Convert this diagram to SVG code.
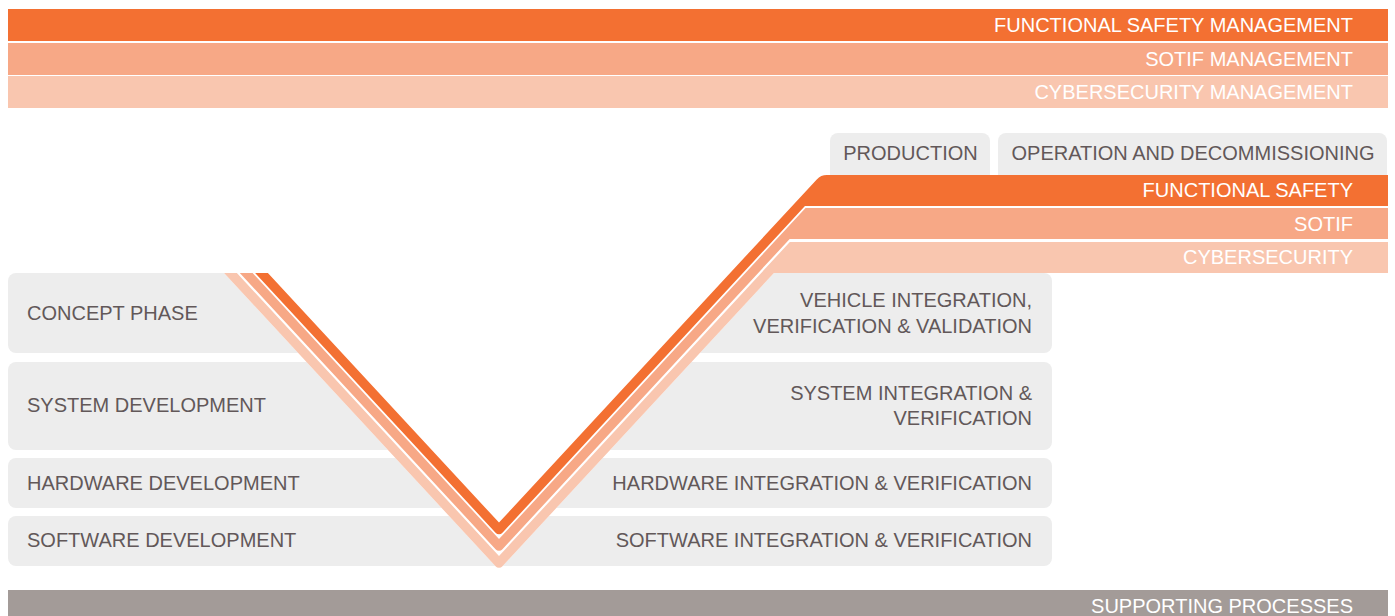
<svg xmlns="http://www.w3.org/2000/svg" width="1395" height="616" viewBox="0 0 1395 616">
<style>
.t{font-family:"Liberation Sans",Arial,sans-serif;font-size:20px}
.w{fill:#ffffff}
.g{fill:#625859}
.end{text-anchor:end}
.mid{text-anchor:middle}
.box{fill:#EDEDED}
.fs{fill:#F37032}
.so{fill:#F7A886}
.cy{fill:#F9C6AF}
</style>
<rect width="1395" height="616" fill="#ffffff"/>

<g id="fs-management">
<rect class="fs" x="8" y="9" width="1380" height="32"/>
<text class="t w end" x="1353" y="32">FUNCTIONAL SAFETY MANAGEMENT</text>
</g>
<g id="sotif-management">
<rect class="so" x="8" y="43" width="1380" height="32"/>
<text class="t w end" x="1353" y="66">SOTIF MANAGEMENT</text>
</g>
<g id="cyber-management">
<rect class="cy" x="8" y="76" width="1380" height="32"/>
<text class="t w end" x="1353" y="99">CYBERSECURITY MANAGEMENT</text>
</g>

<g id="production">
<rect class="box" x="830" y="133" width="160" height="52" rx="8"/>
<text class="t g mid" x="910.5" y="160">PRODUCTION</text>
</g>
<g id="operation">
<rect class="box" x="998" y="133" width="389" height="52" rx="8"/>
<text class="t g mid" x="1193" y="160">OPERATION AND DECOMMISSIONING</text>
</g>

<g id="rows">
<rect class="box" x="8" y="273" width="1044" height="80" rx="8"/>
<rect class="box" x="8" y="362" width="1044" height="88" rx="8"/>
<rect class="box" x="8" y="458" width="1044" height="50" rx="8"/>
<rect class="box" x="8" y="516" width="1044" height="50" rx="8"/>
</g>

<g id="v-hull">
<path fill="#ffffff" d="M224.08 273 L773.92 273 L502.45 566.19 A4.7 4.7 0 0 1 495.55 566.19 Z"/>
</g>

<g id="connectors">
<path id="cybersecurity-v" class="cy" d="M224.08 273 L236.88 273 L499 556.08 L789.82 242 L1388 242 L1388 273 L773.92 273 L502.45 566.19 A4.7 4.7 0 0 1 495.55 566.19 Z"/>
<path id="sotif-v" class="so" d="M239.82 273 L252.62 273 L499 539.08 L805.56 208 L1388 208 L1388 239 L789.66 239 L502.45 549.19 A4.7 4.7 0 0 1 495.55 549.19 Z"/>
<path id="fs-v" class="fs" d="M255.1 273 L267.9 273 L499 522.58 L816.76 179.4 Q820.84 175 826.84 175 L1388 175 L1388 206 L804.94 206 L502.45 532.69 A4.7 4.7 0 0 1 495.55 532.69 Z"/>
</g>

<g id="fs-label"><text class="t w end" x="1353" y="197">FUNCTIONAL SAFETY</text></g>
<g id="sotif-label"><text class="t w end" x="1353" y="231">SOTIF</text></g>
<g id="cyber-label"><text class="t w end" x="1353" y="264">CYBERSECURITY</text></g>

<g id="concept-phase"><text class="t g" x="27" y="320">CONCEPT PHASE</text></g>
<g id="system-development"><text class="t g" x="27" y="412">SYSTEM DEVELOPMENT</text></g>
<g id="hardware-development"><text class="t g" x="27" y="490">HARDWARE DEVELOPMENT</text></g>
<g id="software-development"><text class="t g" x="27" y="547">SOFTWARE DEVELOPMENT</text></g>

<g id="vehicle-integration">
<text class="t g end" x="1032" y="307">VEHICLE INTEGRATION,</text>
<text class="t g end" x="1032" y="333">VERIFICATION &amp; VALIDATION</text>
</g>
<g id="system-integration">
<text class="t g end" x="1032" y="400">SYSTEM INTEGRATION &amp;</text>
<text class="t g end" x="1032" y="425">VERIFICATION</text>
</g>
<g id="hardware-integration"><text class="t g end" x="1032" y="490">HARDWARE INTEGRATION &amp; VERIFICATION</text></g>
<g id="software-integration"><text class="t g end" x="1032" y="547">SOFTWARE INTEGRATION &amp; VERIFICATION</text></g>

<g id="supporting-processes">
<rect fill="#A39B98" x="8" y="590" width="1380" height="30"/>
<text class="t w end" x="1353" y="613">SUPPORTING PROCESSES</text>
</g>
</svg>
